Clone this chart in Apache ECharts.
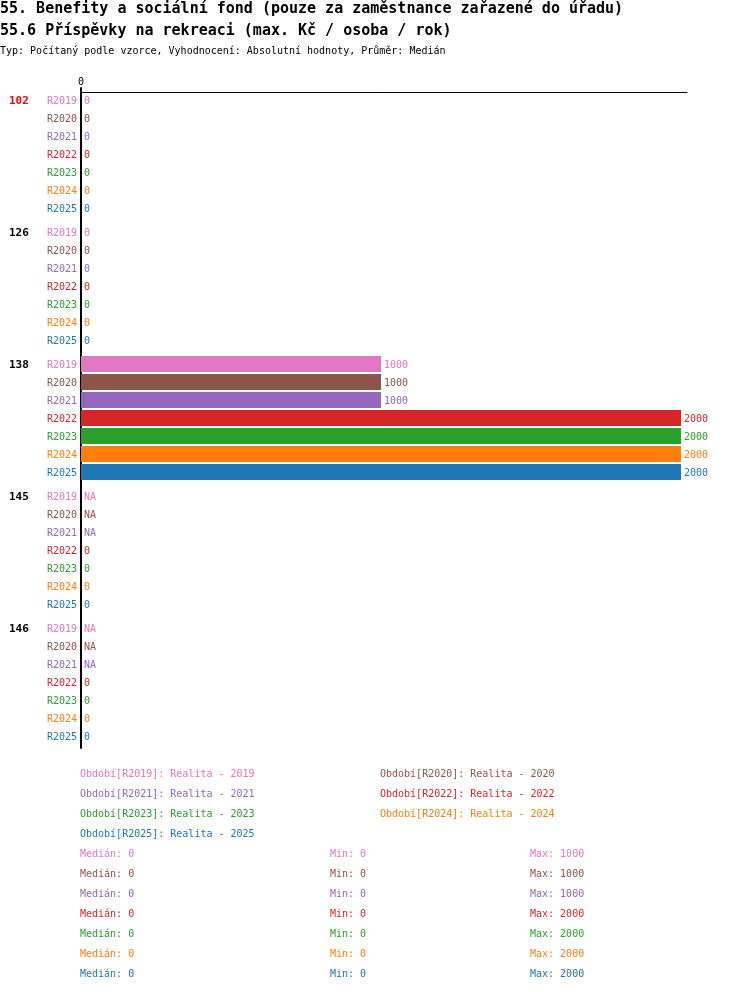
<!DOCTYPE html>
<html>
<head>
<meta charset="utf-8">
<script src="https://cdn.jsdelivr.net/npm/echarts@6/dist/echarts.min.js"></script>
<style>html,body{margin:0;padding:0;background:#fff}#c{width:750px;height:992px}</style>
</head>
<body>
<div id="c"></div>
<script>
const titleLine1 = '55. Benefity a sociální fond (pouze za zaměstnance zařazené do úřadu)';
const titleLine2 = '55.6 Příspěvky na rekreaci (max. Kč / osoba / rok)';
const subtitle = 'Typ: Počítaný podle vzorce, Vyhodnocení: Absolutní hodnoty, Průměr: Medián';
const groups = ['102', '126', '138', '145', '146'];
const highlighted = '102';
const seriesNames = ['R2019', 'R2020', 'R2021', 'R2022', 'R2023', 'R2024', 'R2025'];
const seriesYears = ['2019', '2020', '2021', '2022', '2023', '2024', '2025'];
const colors = ['#e377c2', '#8c564b', '#9467bd', '#d62728', '#2ca02c', '#ff7f0e', '#1f77b4'];
// values per group (102,126,138,145,146); null = NA
const vR2019 = [0, 0, 1000, null, null];
const vR2020 = [0, 0, 1000, null, null];
const vR2021 = [0, 0, 1000, null, null];
const vR2022 = [0, 0, 2000, 0, 0];
const vR2023 = [0, 0, 2000, 0, 0];
const vR2024 = [0, 0, 2000, 0, 0];
const vR2025 = [0, 0, 2000, 0, 0];
const xTicks = [0];

const values = [vR2019, vR2020, vR2021, vR2022, vR2023, vR2024, vR2025];
const FONT = "'DejaVu Sans Mono', 'Liberation Mono', monospace";

const rich = {
  g: { fontFamily: FONT, fontSize: 11, fontWeight: 'bold', color: '#000', width: 38, align: 'left', lineHeight: 18 },
  gh: { fontFamily: FONT, fontSize: 11, fontWeight: 'bold', color: '#ff0000', width: 38, align: 'left', lineHeight: 18 }
};
seriesNames.forEach((n, i) => {
  rich['r' + i] = { fontFamily: FONT, fontSize: 10, color: colors[i], align: 'right', lineHeight: 18 };
});

const series = seriesNames.map((name, i) => ({
  name: name,
  type: 'bar',
  barWidth: 16,
  barGap: '12.5%',
  itemStyle: { color: colors[i] },
  label: {
    show: true, position: 'right', distance: 3, offset: [0, 1], color: colors[i],
    fontFamily: FONT, fontSize: 10, formatter: '{c}'
  },
  data: values[i].map(v => v === null ? { value: 0, label: { formatter: 'NA' } } : v),
  animation: false
}));

function stats(arr) {
  const a = arr.filter(v => v !== null).slice().sort((x, y) => x - y);
  const m = a.length % 2 ? a[(a.length - 1) / 2] : (a[a.length / 2 - 1] + a[a.length / 2]) / 2;
  return { med: m, min: a[0], max: a[a.length - 1] };
}

const graphic = [
  { type: 'text', x: 0, y: 9, style: { text: titleLine1, font: "bold 15px " + FONT, fill: '#000', verticalAlign: 'middle' } },
  { type: 'text', x: 0, y: 31, style: { text: titleLine2, font: "bold 15px " + FONT, fill: '#000', verticalAlign: 'middle' } },
  { type: 'text', x: 0, y: 51, style: { text: subtitle, font: "10px " + FONT, fill: '#000', verticalAlign: 'middle' } }
];
seriesNames.forEach((n, i) => {
  const s = stats(values[i]);
  const y = 854 + i * 20;
  const f = "10px " + FONT;
  graphic.push({ type: 'text', x: 80, y: y, style: { text: 'Medián: ' + s.med, font: f, fill: colors[i], verticalAlign: 'middle' } });
  graphic.push({ type: 'text', x: 330, y: y, style: { text: 'Min: ' + s.min, font: f, fill: colors[i], verticalAlign: 'middle' } });
  graphic.push({ type: 'text', x: 530, y: y, style: { text: 'Max: ' + s.max, font: f, fill: colors[i], verticalAlign: 'middle' } });
});

function legendCol(idxs, left) {
  return {
    orient: 'vertical', left: left, top: 764, padding: 0, itemGap: 0,
    itemWidth: 0, itemHeight: 10, icon: 'none', selectedMode: false,
    formatter: name => 'Období[' + name + ']: Realita - ' + seriesYears[seriesNames.indexOf(name)],
    textStyle: { fontFamily: FONT, fontSize: 10, lineHeight: 20 },
    data: idxs.map(i => ({ name: seriesNames[i], textStyle: { color: colors[i] } }))
  };
}

const option = {
  backgroundColor: '#fff',
  animation: false,
  grid: { left: 81, top: 88, width: 606, height: 660, containLabel: false, outerBoundsMode: 'none' },
  legend: [legendCol([0, 2, 4, 6], 75), legendCol([1, 3, 5], 375)],
  xAxis: {
    type: 'value', position: 'top', min: 0, max: 2020, interval: 2020, offset: -4,
    axisLine: { show: true, lineStyle: { color: '#000', width: 1 } },
    axisTick: { show: false },
    splitLine: { show: false },
    axisLabel: {
      margin: 5, color: '#000', fontFamily: FONT, fontSize: 10,
      formatter: v => xTicks.indexOf(v) >= 0 ? String(v) : ''
    }
  },
  yAxis: {
    type: 'category', inverse: true, data: groups,
    axisLine: { show: true, lineStyle: { color: '#000', width: 2 } },
    axisTick: { show: false },
    splitLine: { show: false },
    axisLabel: {
      interval: 0, margin: 4, padding: [2, 0, 0, 0],
      formatter: (g) => {
        const gs = g === highlighted ? 'gh' : 'g';
        return seriesNames.map((n, i) => (i === 0 ? '{' + gs + '|' + g + '}' : '') + '{r' + i + '|' + n + '}').join('\n');
      },
      rich: rich
    }
  },
  graphic: graphic,
  series: series
};

const chart = echarts.init(document.getElementById('c'), null, { renderer: 'canvas' });
chart.setOption(option);
</script>
</body>
</html>
